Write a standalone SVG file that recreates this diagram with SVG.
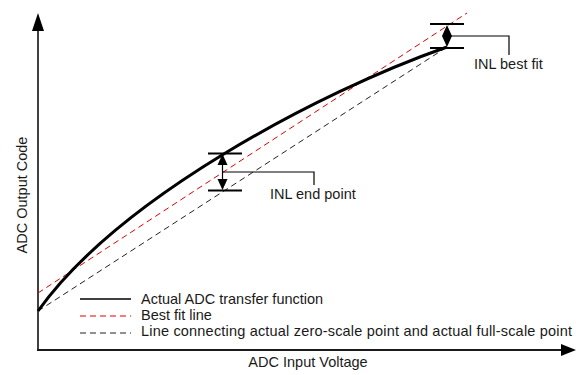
<svg xmlns="http://www.w3.org/2000/svg" width="576" height="375" viewBox="0 0 576 375">
<style>
text{font-family:"Liberation Sans",Arial,sans-serif;font-size:14.5px;fill:#1a1a1a}
.ax{stroke:#404040;stroke-width:2;fill:none}
.curve{stroke:#000;stroke-width:3;fill:none}
.red{stroke:#e00000;stroke-width:1;stroke-dasharray:6 4;fill:none}
.blk{stroke:#222;stroke-width:1;stroke-dasharray:6 4;fill:none}
.tick{stroke:#000;stroke-width:2;fill:none}
.thin{stroke:#000;stroke-width:1.2;fill:none}
.head{fill:#000;stroke:none}
</style>
<g id="axes">
<line class="ax" x1="38" y1="350" x2="38" y2="29"/>
<polygon class="head" points="38,13 32,31 44,31"/>
<line class="ax" x1="37" y1="350" x2="562" y2="350" style="stroke:#1a1a1a"/>
<polygon class="head" points="576,350 561,344 561,356"/>
<text x="308" y="367" text-anchor="middle">ADC Input Voltage</text>
<text transform="translate(26.5,195) rotate(-90)" text-anchor="middle">ADC Output Code</text>
</g>
<g id="connectors">
<line class="red" x1="38" y1="293" x2="467" y2="13"/>
<line class="blk" x1="38" y1="311" x2="447" y2="47"/>
<path class="curve" d="M38,311 C118,199 317,92.5 447,47"/>
</g>
<g id="inl-end-point">
<line class="tick" x1="208" y1="153.5" x2="242" y2="153.5"/>
<line class="tick" x1="208" y1="190.5" x2="242" y2="190.5"/>
<line class="thin" x1="222.5" y1="160" x2="222.5" y2="184"/>
<polygon class="head" points="222.5,154 217.5,165 227.5,165"/>
<polygon class="head" points="222.5,190 217.5,179 227.5,179"/>
<polyline class="thin" points="222.5,172 314,172 314,185"/>
<text x="270" y="199">INL end point</text>
</g>
<g id="inl-best-fit">
<line class="tick" x1="430" y1="24" x2="464" y2="24"/>
<line class="tick" x1="430" y1="48" x2="464" y2="48"/>
<polygon class="head" points="447,25 442,36 452,36"/>
<polygon class="head" points="447,47 442,36 452,36"/>
<polyline class="thin" points="447,36 509,36 509,55"/>
<text x="474" y="69">INL best fit</text>
</g>
<g id="legend">
<line x1="80" y1="299" x2="131" y2="299" stroke="#000" stroke-width="1.5"/>
<line class="red" x1="80" y1="316" x2="131" y2="316"/>
<line class="blk" x1="80" y1="333" x2="131" y2="333"/>
<text x="141" y="303.5">Actual ADC transfer function</text>
<text x="141" y="319.5">Best fit line</text>
<text x="141" y="335.5" textLength="431">Line connecting actual zero-scale point and actual full-scale point</text>
</g>
</svg>
